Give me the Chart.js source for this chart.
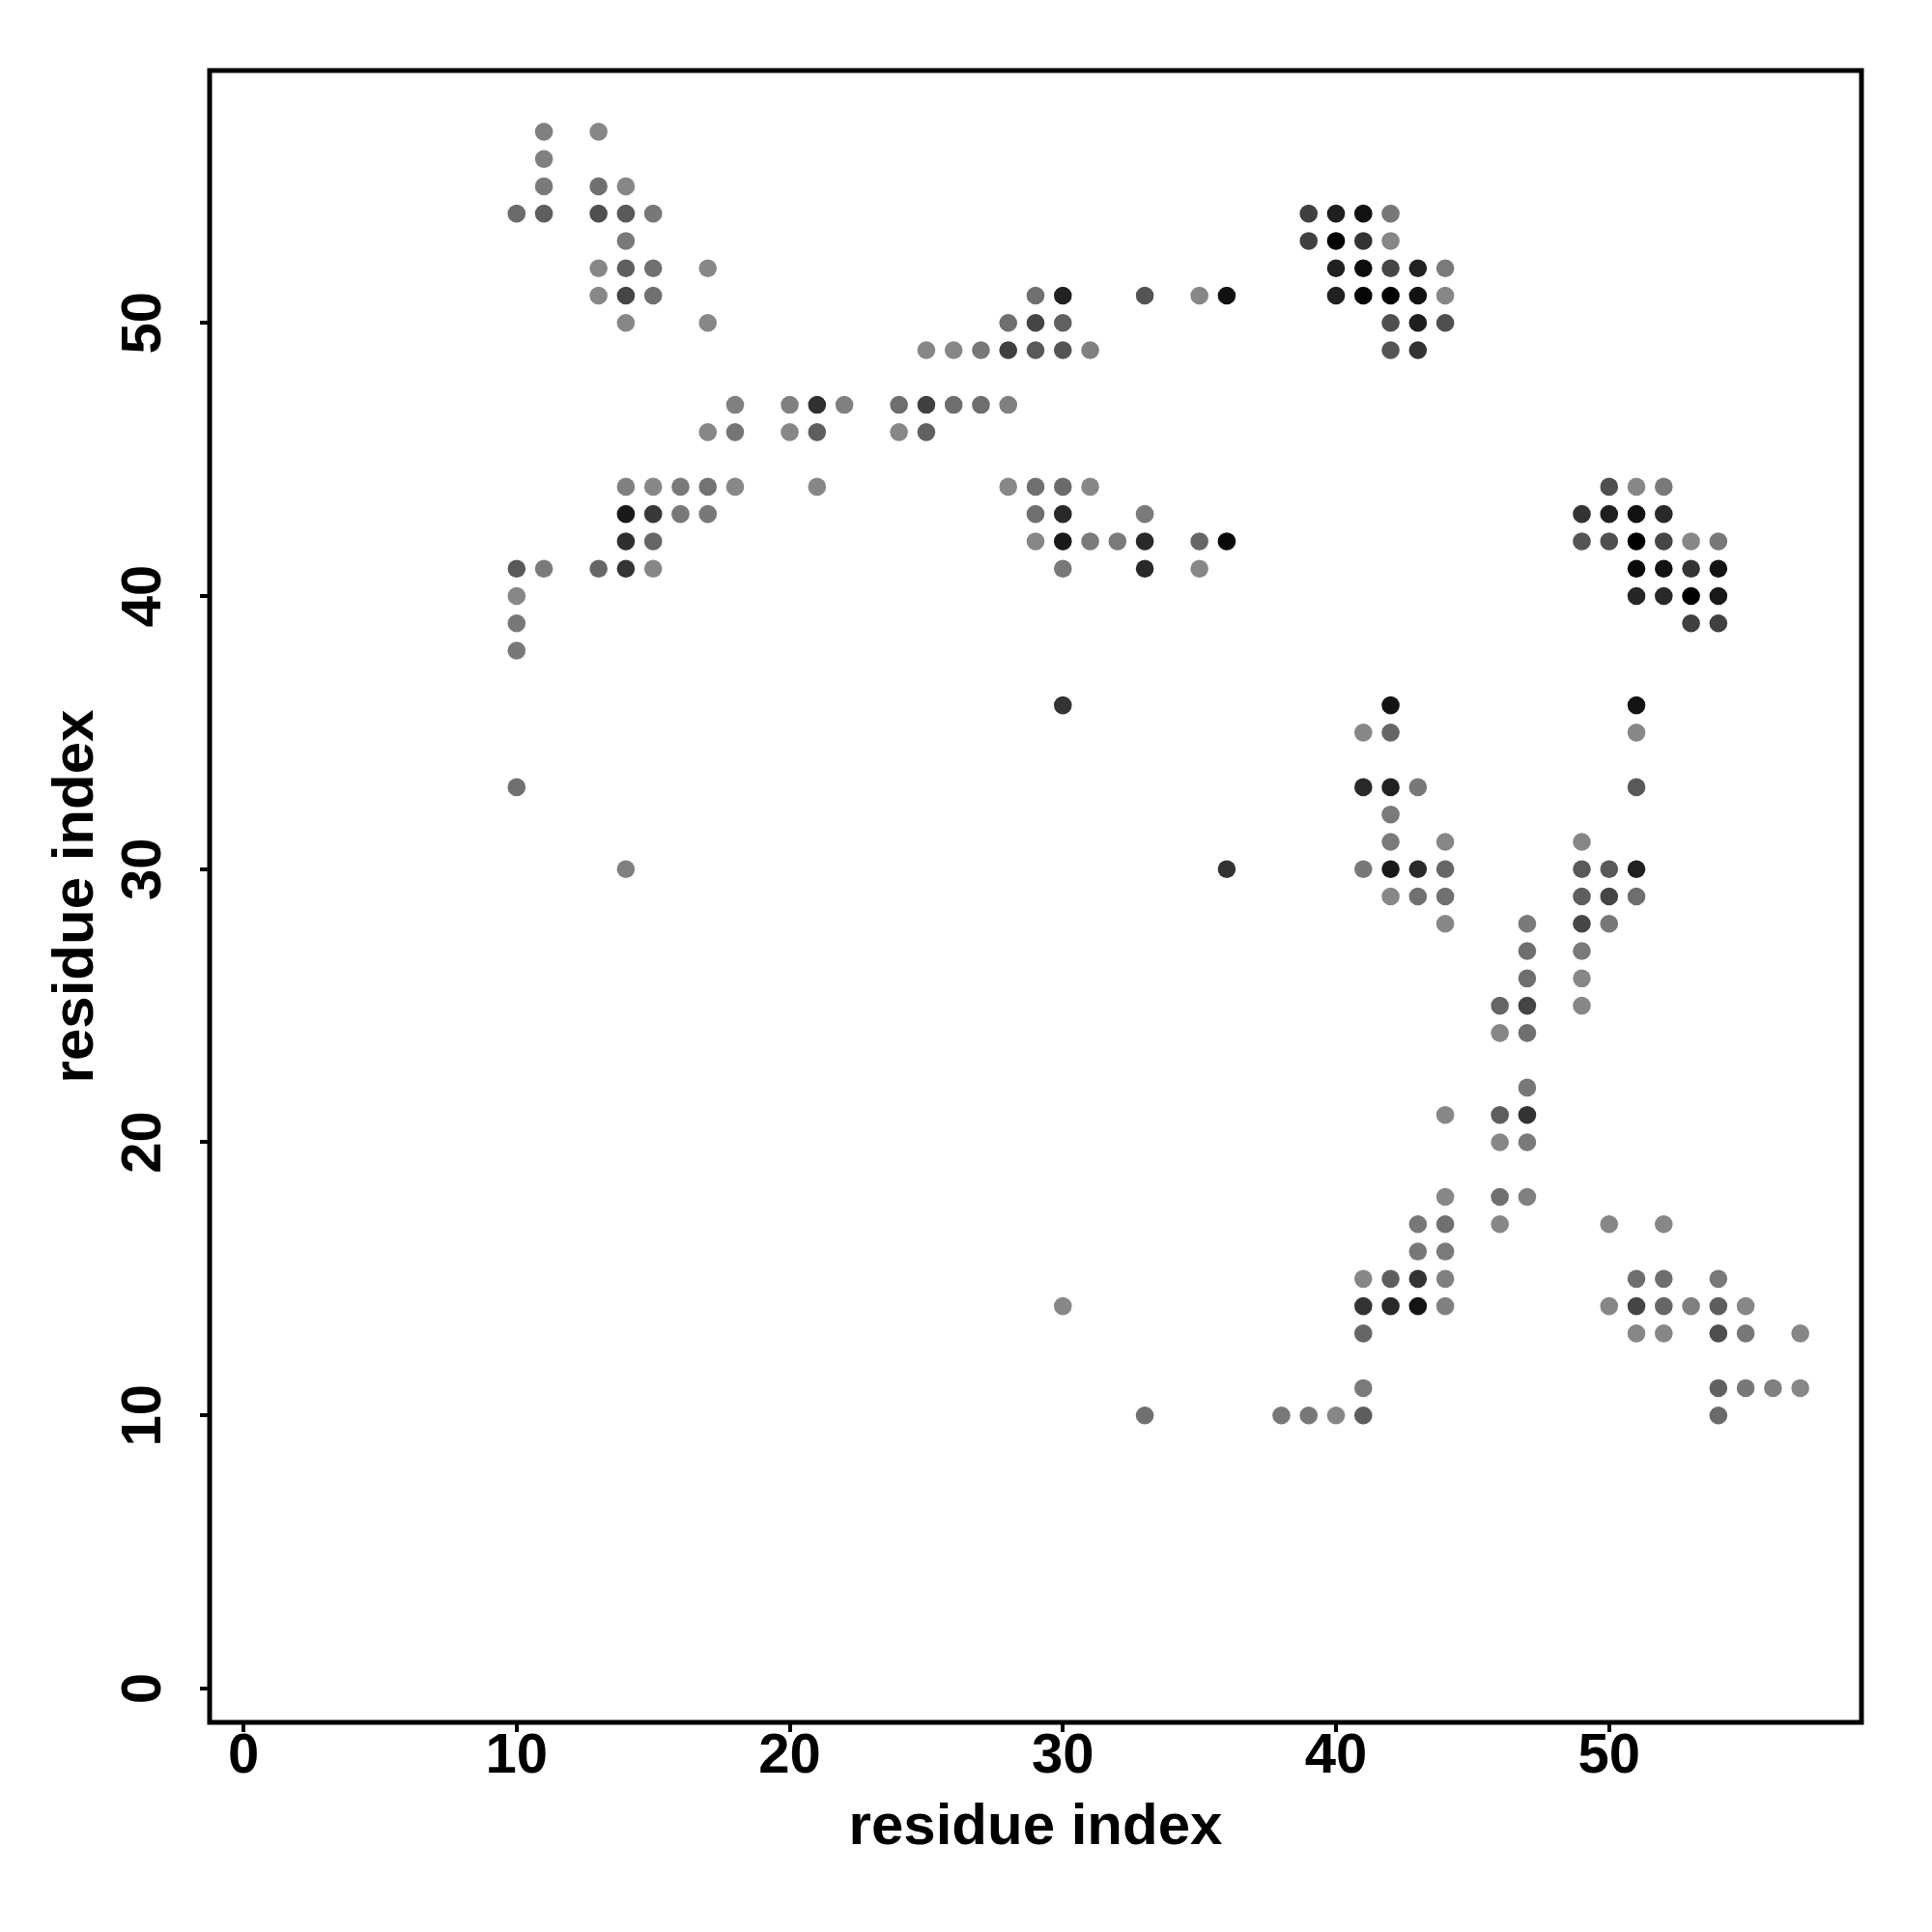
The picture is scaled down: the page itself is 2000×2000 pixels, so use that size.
<!DOCTYPE html>
<html>
<head>
<meta charset="utf-8">
<title>residue contacts</title>
<script src="https://cdn.jsdelivr.net/npm/chart.js@4.4.1/dist/chart.umd.min.js"></script>
<style>
  html, body { margin: 0; padding: 0; background: #fff; }
  canvas { display: block; }
</style>
</head>
<body>
<canvas id="myChart" width="2000" height="2000"></canvas>
<script>
// one row per residue j, listing the partner residues i and the contact strength (1 = black)
const rowJ = [57, 56, 55, 54, 53, 52, 51, 50, 49, 47, 46, 44, 43, 42, 41, 40, 39, 38,
              36, 35, 33, 32, 31, 30, 29, 28, 27, 26, 25, 24, 22, 21, 20, 18, 17, 16,
              15, 14, 13, 11, 10];

const rowI = [
    [11, 13],
    [11],
    [11, 13, 14],
    [10, 11, 13, 14, 15, 39, 40, 41, 42],
    [14, 39, 40, 41, 42],
    [13, 14, 15, 17, 40, 41, 42, 43, 44],
    [13, 14, 15, 29, 30, 33, 35, 36, 40, 41, 42, 43, 44],
    [14, 17, 28, 29, 30, 42, 43, 44],
    [25, 26, 27, 28, 29, 30, 31, 42, 43],
    [18, 20, 21, 22, 24, 25, 26, 27, 28],
    [17, 18, 20, 21, 24, 25],
    [14, 15, 16, 17, 18, 21, 28, 29, 30, 31, 50, 51, 52],
    [14, 15, 16, 17, 29, 30, 33, 49, 50, 51, 52],
    [14, 15, 29, 30, 31, 32, 33, 35, 36, 49, 50, 51, 52, 53, 54],
    [10, 11, 13, 14, 15, 30, 33, 35, 51, 52, 53, 54],
    [10, 51, 52, 53, 54],
    [10, 53, 54],
    [10],
    [30, 42, 51],
    [41, 42, 51],
    [10, 41, 42, 43, 51],
    [42],
    [42, 44, 49],
    [14, 36, 41, 42, 43, 44, 49, 50, 51],
    [42, 43, 44, 49, 50, 51],
    [44, 47, 49, 50],
    [47, 49],
    [47, 49],
    [46, 47, 49],
    [46, 47],
    [47],
    [44, 46, 47],
    [46, 47],
    [44, 46, 47],
    [43, 44, 46, 50, 52],
    [43, 44],
    [41, 42, 43, 44, 51, 52, 54],
    [30, 41, 42, 43, 44, 50, 51, 52, 53, 54, 55],
    [41, 51, 52, 54, 55, 57],
    [41, 54, 55, 56, 57],
    [33, 38, 39, 40, 41, 54]
];

const rowContact = [
    [.50, .47],
    [.50],
    [.52, .56, .47],
    [.58, .63, .69, .65, .53, .75, .88, .93, .53],
    [.52, .75, 1.0, .80, .47],
    [.47, .63, .56, .47, .87, .95, .73, .87, .52],
    [.47, .73, .56, .56, .87, .67, .47, .93, .87, .98, 1.0, .93, .47],
    [.47, .47, .56, .73, .62, .69, .88, .69],
    [.47, .47, .53, .75, .65, .67, .50, .67, .80],
    [.50, .50, .81, .50, .57, .75, .57, .57, .50],
    [.47, .54, .47, .63, .47, .62],
    [.50, .47, .52, .55, .47, .47, .47, .56, .58, .47, .69, .47, .52],
    [.90, .78, .53, .53, .56, .84, .52, .80, .88, .93, .84],
    [.82, .60, .47, .90, .52, .52, .84, .60, .96, .67, .69, 1.0, .73, .47, .53],
    [.65, .52, .60, .80, .47, .53, .84, .47, .96, .93, .80, .93],
    [.47, .85, .84, 1.0, .90],
    [.53, .75, .75],
    [.53],
    [.80, .93, .92],
    [.47, .60, .47],
    [.56, .84, .87, .53, .65],
    [.52],
    [.52, .47, .47],
    [.50, .80, .53, .90, .84, .60, .65, .65, .87],
    [.47, .56, .56, .63, .73, .57],
    [.47, .52, .72, .53],
    [.57, .52],
    [.57, .47],
    [.60, .73, .47],
    [.47, .56],
    [.53],
    [.47, .63, .80],
    [.47, .52],
    [.47, .56, .50],
    [.53, .56, .47, .47, .47],
    [.53, .52],
    [.47, .63, .80, .50, .57, .57, .53],
    [.47, .80, .84, .92, .50, .47, .73, .60, .50, .63, .47],
    [.60, .47, .47, .69, .53, .47],
    [.52, .62, .53, .50, .47],
    [.56, .53, .53, .47, .63, .58]
];

const tickVals = [0, 10, 20, 30, 40, 50];

// axis limits: residues 1..57 with the usual 4% margin
const resMin = 1;
const resMax = 57;
const pad = (resMax - resMin) * 0.04;

const FONT = "'Liberation Sans', Arial, Helvetica, sans-serif";

let points = [];
let shades = [];
rowJ.forEach((j, r) => {
    rowI[r].forEach((i, k) => {
        points.push({ x: i, y: j });
        const g = Math.round(255 * (1 - rowContact[r][k]));
        shades.push(`rgb(${g},${g},${g})`);
    });
});

// frame + rotated y tick labels (R style)
const framePlugin = {
    id: "frame",
    afterDraw(chart) {
        const ctx = chart.ctx;
        const a = chart.chartArea;
        ctx.save();
        ctx.strokeStyle = "#000";
        ctx.lineWidth = 5;
        ctx.strokeRect(a.left, a.top, a.right - a.left, a.bottom - a.top);

        const ys = chart.scales.y;
        ctx.fillStyle = "#000";
        ctx.font = "bold 58px " + FONT;
        ctx.textAlign = "center";
        ctx.textBaseline = "middle";
        ys.ticks.forEach(t => {
            const py = ys.getPixelForValue(t.value);
            ctx.save();
            ctx.translate(150, py);
            ctx.rotate(-Math.PI / 2);
            ctx.fillText(String(t.value), 0, 0);
            ctx.restore();
        });
        ctx.restore();
    }
};

const ctx = document.getElementById("myChart").getContext("2d");

const chart = new Chart(ctx, {
    type: "scatter",
    data: {
        datasets: [{
            data: points,
            backgroundColor: shades,
            borderWidth: 0,
            pointRadius: 9.3,
            pointHoverRadius: 9.3
        }]
    },
    options: {
        responsive: false,
        devicePixelRatio: 1,
        animation: false,
        layout: { padding: { top: 73, right: 73, bottom: 0, left: 0 } },
        plugins: {
            legend: { display: false },
            tooltip: { enabled: false }
        },
        scales: {
            x: {
                type: "linear",
                min: resMin - pad,
                max: resMax + pad,
                afterBuildTicks: s => { s.ticks = tickVals.map(v => ({ value: v })); },
                afterFit: s => { s.height = 217; },
                border: { display: false },
                grid: {
                    drawOnChartArea: false,
                    drawTicks: true,
                    tickLength: 10,
                    color: "#000",
                    lineWidth: 4
                },
                ticks: {
                    color: "#000",
                    padding: -3,
                    maxRotation: 0,
                    font: { family: FONT, weight: "bold", size: 58, lineHeight: 1 }
                },
                title: {
                    display: true,
                    text: "residue index",
                    color: "#000",
                    padding: { top: 0, bottom: 78 },
                    font: { family: FONT, weight: "bold", size: 60, lineHeight: 1 }
                }
            },
            y: {
                type: "linear",
                min: resMin - pad,
                max: resMax + pad,
                afterBuildTicks: s => { s.ticks = tickVals.map(v => ({ value: v })); },
                afterFit: s => { s.width = 217; },
                border: { display: false },
                grid: {
                    drawOnChartArea: false,
                    drawTicks: true,
                    tickLength: 10,
                    color: "#000",
                    lineWidth: 4
                },
                ticks: { display: false },
                title: {
                    display: true,
                    text: "residue index",
                    color: "#000",
                    padding: { top: 49, bottom: 0 },
                    font: { family: FONT, weight: "bold", size: 60, lineHeight: 1 }
                }
            }
        }
    },
    plugins: [framePlugin]
});
</script>
</body>
</html>
